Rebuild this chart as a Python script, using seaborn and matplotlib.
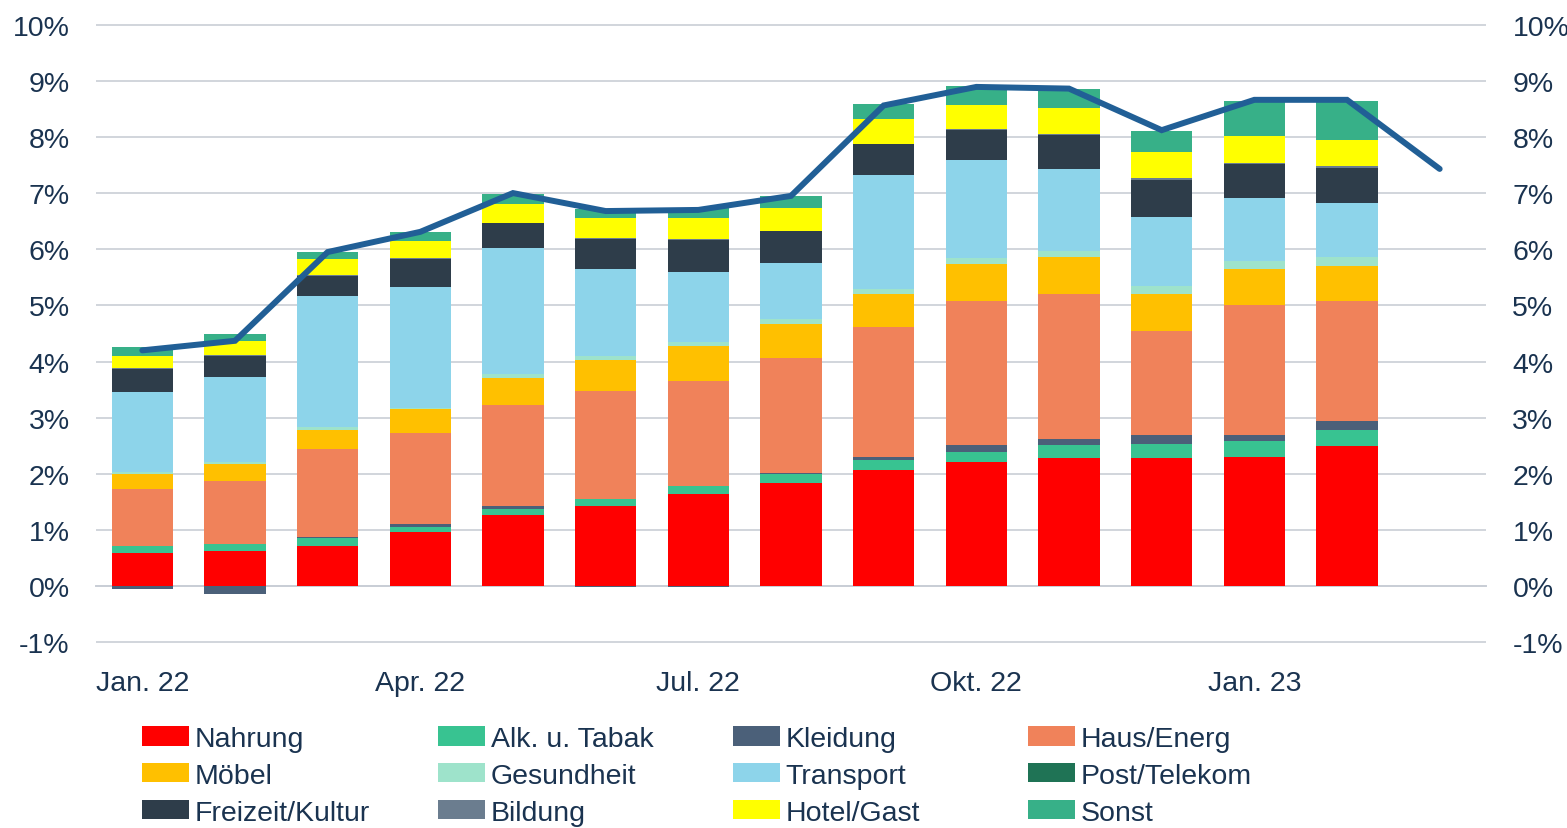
import numpy as np
import pandas as pd
import matplotlib
matplotlib.use("Agg")
import matplotlib.pyplot as plt
import seaborn as sns
from matplotlib.patches import Patch

# ---------------- data ----------------
months = ["Jan. 22", "Feb. 22", "Mär. 22", "Apr. 22", "Mai 22", "Jun. 22", "Jul. 22",
          "Aug. 22", "Sep. 22", "Okt. 22", "Nov. 22", "Dez. 22", "Jan. 23", "Feb. 23",
          "Mär. 23"]
tick_labels = ["Jan. 22", "Apr. 22", "Jul. 22", "Okt. 22", "Jan. 23"]
y_ticks = [-1, 0, 1, 2, 3, 4, 5, 6, 7, 8, 9, 10]

categories = ["Nahrung", "Alk. u. Tabak", "Kleidung", "Haus/Energ",
              "Möbel", "Gesundheit", "Transport", "Post/Telekom",
              "Freizeit/Kultur", "Bildung", "Hotel/Gast", "Sonst"]

nahrung = [0.60, 0.63, 0.72, 0.97, 1.27, 1.43, 1.65, 1.83, 2.07, 2.22, 2.29, 2.29, 2.30, 2.50]
alk_tabak = [0.12, 0.12, 0.14, 0.08, 0.10, 0.13, 0.14, 0.16, 0.17, 0.17, 0.22, 0.25, 0.29, 0.28]
kleidung = [-0.05, -0.13, 0.01, 0.06, 0.06, -0.02, -0.02, 0.03, 0.07, 0.12, 0.12, 0.15, 0.10, 0.17]
haus_energ = [1.01, 1.12, 1.57, 1.61, 1.79, 1.92, 1.87, 2.05, 2.30, 2.57, 2.58, 1.86, 2.31, 2.12]
moebel = [0.27, 0.30, 0.35, 0.44, 0.49, 0.54, 0.61, 0.60, 0.60, 0.65, 0.66, 0.66, 0.64, 0.63]
gesundheit = [0.03, 0.04, 0.05, 0.02, 0.07, 0.08, 0.08, 0.09, 0.08, 0.11, 0.09, 0.13, 0.15, 0.17]
transport = [1.43, 1.51, 2.32, 2.14, 2.24, 1.54, 1.24, 0.99, 2.03, 1.74, 1.46, 1.23, 1.12, 0.95]
post_telekom = [0.0, 0.0, 0.0, 0.0, 0.0, 0.0, 0.0, 0.0, 0.0, 0.0, 0.0, 0.0, 0.0, 0.0]
freizeit = [0.41, 0.38, 0.37, 0.51, 0.44, 0.55, 0.58, 0.57, 0.55, 0.54, 0.62, 0.67, 0.60, 0.62]
bildung = [0.01, 0.01, 0.01, 0.01, 0.01, 0.01, 0.01, 0.01, 0.01, 0.02, 0.02, 0.02, 0.02, 0.04]
hotel_gast = [0.22, 0.25, 0.29, 0.31, 0.34, 0.36, 0.38, 0.41, 0.44, 0.42, 0.45, 0.47, 0.49, 0.47]
sonst = [0.16, 0.13, 0.12, 0.16, 0.18, 0.15, 0.18, 0.21, 0.27, 0.34, 0.34, 0.37, 0.62, 0.69]

gesamt = [4.20, 4.37, 5.95, 6.31, 7.00, 6.68, 6.70, 6.95, 8.56, 8.89, 8.86, 8.12, 8.66, 8.66, 7.43]

series = [nahrung, alk_tabak, kleidung, haus_energ, moebel, gesundheit, transport,
          post_telekom, freizeit, bildung, hotel_gast, sonst]

colors = ["#FF0000", "#38C391", "#4B6079", "#F0825A",
          "#FFC000", "#9EE3CB", "#8DD4EA", "#1F7355",
          "#2E3D4A", "#6B7D8F", "#FFFF00", "#37B088"]
line_color = "#215F96"
text_color = "#1A3350"
grid_color = "#C9CED6"

# ---------------- style ----------------
sns.set_theme(style="white")
plt.rcParams["font.family"] = ["Liberation Sans", "DejaVu Sans"]

W, H = 1567, 829
fig = plt.figure(figsize=(W / 100, H / 100), dpi=100)
left, right, top, bottom = 96, 1486, 25, 644
ax = fig.add_axes([left / W, 1 - bottom / H, (right - left) / W, (bottom - top) / H])

df = pd.DataFrame(dict(zip(categories, series)), index=months[:len(nahrung)])
x = np.arange(len(df))
pos_base = np.zeros(len(df))
neg_base = np.zeros(len(df))
for cat, col in zip(categories, colors):
    vals = df[cat].to_numpy()
    base = np.where(vals >= 0, pos_base, neg_base)
    ax.bar(x, vals, bottom=base, width=0.665, color=col, linewidth=0, zorder=2)
    pos_base = pos_base + np.where(vals >= 0, vals, 0)
    neg_base = neg_base + np.where(vals < 0, vals, 0)

sns.lineplot(x=np.arange(len(gesamt)), y=gesamt, ax=ax, color=line_color,
             linewidth=4.3, zorder=5, solid_capstyle="round", solid_joinstyle="miter")

ax.set_xlim(-0.5, len(months) - 0.5)
ax.set_ylim(-1.01, 10.01)
ax.set_yticks(y_ticks)
ax.set_yticklabels([f"{v}%" for v in y_ticks])
ax.yaxis.grid(True, color=grid_color, linewidth=1.2, zorder=0)
ax.set_axisbelow(True)
ax.set_ylabel("")
ax.set_xlabel("")

for s in ["top", "right", "left"]:
    ax.spines[s].set_visible(False)
ax.spines["bottom"].set_position(("data", 0))
ax.spines["bottom"].set_color(grid_color)
ax.spines["bottom"].set_linewidth(1.4)
ax.spines["bottom"].set_zorder(1)

ax.set_xticks([months.index(t) for t in tick_labels])
ax.set_xticklabels(tick_labels)
ax.set_xticks([-0.5, 2.5, 5.5, 8.5, 11.5], minor=True)
ax.tick_params(axis="x", which="major", length=0, pad=60, labelsize=20.5, labelcolor=text_color)
ax.tick_params(axis="x", which="minor", length=8, width=1.4, color=grid_color, direction="out")
ax.tick_params(axis="y", length=0, pad=19, labelsize=20.5, labelcolor=text_color)

ax2 = ax.twinx()
ax2.set_ylim(ax.get_ylim())
ax2.set_yticks(y_ticks)
ax2.set_yticklabels([f"{v}%" for v in y_ticks])
ax2.tick_params(axis="y", length=0, pad=19, labelsize=20.5, labelcolor=text_color)
ax2.grid(False)
for s in ax2.spines.values():
    s.set_visible(False)

# ---------------- legend (4 columns, row-wise order) ----------------
col_x = [142, 438, 733, 1028]
for c in range(4):
    idx = [c, c + 4, c + 8]
    handles = [Patch(facecolor=colors[i], edgecolor="none", label=categories[i]) for i in idx]
    fig.legend(handles=handles, loc="upper left",
               bbox_to_anchor=(col_x[c] / W, 1 - 727 / H),
               frameon=False, fontsize=20.5, handlelength=1.65, handleheight=0.66,
               handletextpad=0.2, labelspacing=0.38, borderpad=0, borderaxespad=0,
               labelcolor=text_color)

fig.savefig("out.png", dpi=100)
